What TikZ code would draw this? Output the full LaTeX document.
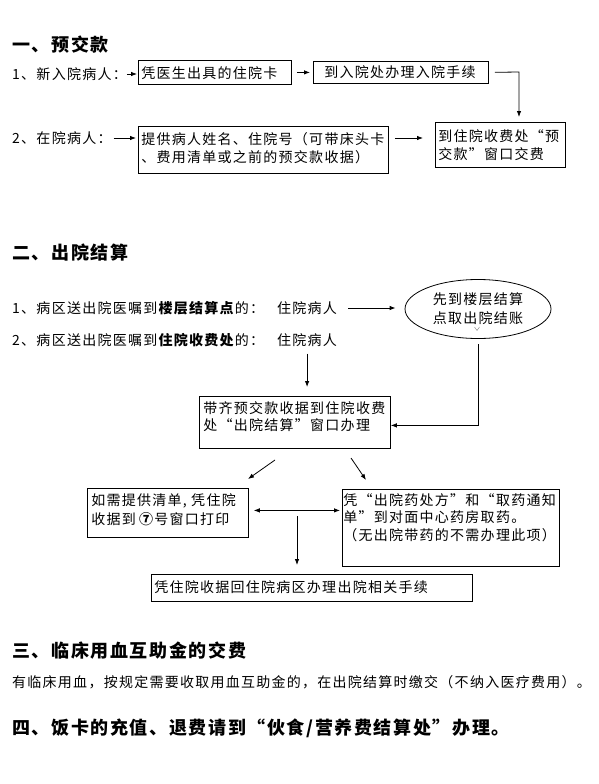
\documentclass[tikz,border=0pt]{standalone}
\usepackage{fontspec}
\setmainfont{Noto Sans CJK SC}[LetterSpace=9]
\usetikzlibrary{arrows.meta,shapes.geometric}
\newcommand\bxt[6]{\parbox[c][#2pt][t]{#1pt}{\fontsize{14}{#5}\selectfont\raggedright\leftskip=#3pt\relax\vspace*{#4pt}#6\par}}
\tikzset{
  bx/.style={draw, line width=0.8pt, inner sep=0pt, anchor=north west},
  ttl/.style={anchor=west, inner sep=0pt, font=\fontsize{18}{22}\selectfont\bfseries},
  txt/.style={anchor=west, inner sep=0pt, font=\fontsize{14}{17}\selectfont},
  arr/.style={draw, line width=0.8pt, -{Latex[length=6pt,width=4.5pt]}},
  darr/.style={draw, line width=0.8pt, {Latex[length=6pt,width=4.5pt]}-{Latex[length=6pt,width=4.5pt]}}
}
\begin{document}
\begin{tikzpicture}[x=1pt,y=-1pt]
\fill[white] (0,0) rectangle (599,784);
\useasboundingbox (0,0) rectangle (599,784);

% ---------- Section 1 ----------
\node[ttl] (T1) at (12,45) {一、预交款};
\node[txt] (t1) at (12,74) {1、新入院病人：};
\node[txt] (t2) at (12,138) {2、在院病人：};

\node[bx] (A) at (138,60) {\bxt{153}{24}{3}{6.07}{17.5}{\strut 凭医生出具的住院卡}};
\node[bx] (B) at (313,61) {\bxt{175}{22}{11}{4.07}{17.5}{\strut 到入院处办理入院手续}};
\node[bx] (C) at (138,126) {\bxt{250}{47}{3}{5.07}{18}{\strut 提供病人姓名、住院号（可带床头卡\\\strut 、费用清单或之前的预交款收据）}};
\node[bx] (D) at (435,122) {\bxt{130}{45}{3}{6.07}{18}{\strut 到住院收费处“预\\\strut 交款”窗口交费}};

\draw[arr, shorten >=1pt] (t1.east) -- (t1.east -| A.west);
\draw[arr, shorten <=5pt, shorten >=3pt] (A.east |- B.east) -- (B.west);
\coordinate (bd) at (519,72);
\draw[arr, shorten <=6pt, shorten >=5pt] (B.east) -- (bd) -- (bd |- D.north);
\draw[arr, shorten <=2pt, shorten >=2pt] (t2.east) -- (t2.east -| C.west);
\draw[arr, shorten <=6pt, shorten >=12pt] (t2.east -| C.east) -- (t2.east -| D.west);

% ---------- Section 2 ----------
\node[ttl] (T2) at (12,253) {二、出院结算};
\node[txt] (s1) at (12,308) {1、病区送出院医嘱到\textbf{楼层结算点}的：};
\node[txt] (p1) at (277,308) {住院病人};
\node[txt] (s2) at (12,340) {2、病区送出院医嘱到\textbf{住院收费处}的：};
\node[txt] (p2) at (277,340) {住院病人};

\node[draw, ellipse, line width=0.8pt, minimum width=146pt, minimum height=59pt, inner sep=0pt, align=center, font=\fontsize{14}{19}\selectfont] (ell) at (478,309) {先到楼层结算\\点取出院结账};
\draw[line width=0.4pt, gray] (474.5,327) -- (477,330.5) -- (479.5,327);

\node[bx] (E) at (199,396) {\bxt{191}{52}{4}{5.07}{17}{\strut 带齐预交款收据到住院收费\\\strut 处“出院结算”窗口办理}};
\node[bx] (F) at (87,488) {\bxt{161}{49}{4}{4.07}{19}{\strut 如需提供清单, 凭住院\\\strut 收据到\hspace{2pt}\textbf{⑦}号窗口打印}};
\node[bx] (G) at (342,489) {\bxt{217}{77}{1}{4.07}{16}{\strut 凭“出院药处方”和“取药通知\\\strut 单”到对面中心药房取药。\\\strut （无出院带药的不需办理此项）}};
\node[bx] (H) at (151,574) {\bxt{321}{27}{3}{6.07}{17.5}{\strut 凭住院收据回住院病区办理出院相关手续}};

\draw[arr, shorten <=11pt, shorten >=9pt] (p1.east) -- (p1.east -| ell.west);
\draw[arr, shorten <=7pt, shorten >=9pt] (p2.south) -- (p2.south |- E.north);
\coordinate (ein) at ([yshift=-3pt]E.east);
\draw[arr, shorten <=5.5pt] (ell.south) -- (ell.south |- ein) -- (ein);

\coordinate (d1a) at (275,460);
\coordinate (d1b) at (248,479);
\draw[arr] (d1a) -- (d1b);
\coordinate (d2a) at (351,458);
\coordinate (d2b) at (366,480);
\draw[arr] (d2a) -- (d2b);

\coordinate (dl) at ([xshift=5pt,yshift=2.5pt]F.east);
\coordinate (dr) at (dl -| G.west);
\draw[darr, shorten >=2pt] (dl) -- (dr);

\coordinate (vs) at (297,516);
\draw[arr, shorten >=9pt] (vs) -- (vs |- H.north);

% ---------- Section 3 ----------
\node[ttl] (T3) at (12,651) {三、临床用血互助金的交费};
\node[txt] (t3) at (12,682) {有临床用血，按规定需要收取用血互助金的，在出院结算时缴交（不纳入医疗费用）。};

% ---------- Section 4 ----------
\node[ttl] (T4) at (12,728) {四、饭卡的充值、退费请到“伙食/营养费结算处”办理。};
\end{tikzpicture}
\end{document}
